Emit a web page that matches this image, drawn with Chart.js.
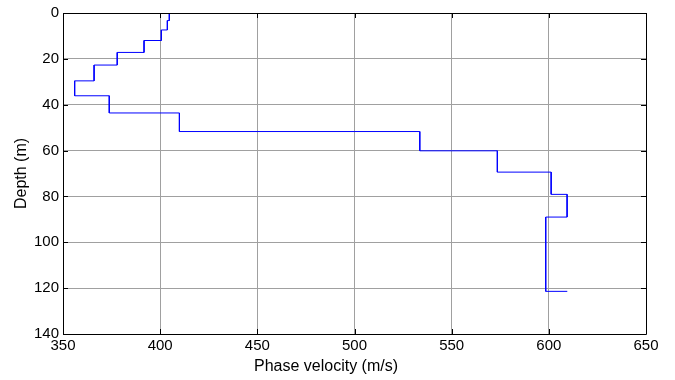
<!DOCTYPE html>
<html>
<head>
<meta charset="utf-8">
<script src="https://cdn.jsdelivr.net/npm/chart.js@4/dist/chart.umd.min.js"></script>
<style>
html,body{margin:0;padding:0;background:#fff;}
canvas{display:block;}
</style>
</head>
<body>
<canvas id="c" width="675" height="380"></canvas>
<script>
// Layer velocities (m/s), last one is the half-space value
const layerVelocity = [404.7, 403.7, 400.6, 391.7, 377.9, 366.0, 356.0, 373.8, 409.9, 533.6, 573.5, 601.2, 609.4, 598.4, 609.5];
// Layer boundary depths (m)
const boundaryDepth = [0, 3.3, 7.4, 12.0, 17.2, 22.7, 29.6, 36.1, 43.6, 51.7, 60.1, 69.4, 79.1, 89.0, 121.4];
const xTicks = [350, 400, 450, 500, 550, 600, 650];
const yTicks = [0, 20, 40, 60, 80, 100, 120, 140];
const xTitle = 'Phase velocity (m/s)';
const yTitle = 'Depth (m)';

const pts = [];
for (let i = 0; i < boundaryDepth.length - 1; i++) {
  pts.push({x: layerVelocity[i], y: boundaryDepth[i]});
  pts.push({x: layerVelocity[i], y: boundaryDepth[i + 1]});
}
pts.push({x: layerVelocity[layerVelocity.length - 1], y: boundaryDepth[boundaryDepth.length - 1]});

const FONT = "'Liberation Sans', Arial, sans-serif";

const boxPlugin = {
  id: 'box',
  afterDraw(chart) {
    const {ctx, chartArea: a, scales} = chart;
    ctx.save();
    ctx.strokeStyle = '#000';
    ctx.lineWidth = 1;
    ctx.beginPath();
    ctx.rect(Math.round(a.left) + 0.5, Math.round(a.top) + 0.5, Math.round(a.right - a.left), Math.round(a.bottom - a.top));
    ctx.stroke();
    const tl = 5;
    ctx.beginPath();
    xTicks.forEach(v => {
      const x = Math.round(scales.x.getPixelForValue(v)) + 0.5;
      ctx.moveTo(x, a.bottom); ctx.lineTo(x, a.bottom - tl);
      ctx.moveTo(x, a.top); ctx.lineTo(x, a.top + tl);
    });
    yTicks.forEach(v => {
      const y = Math.round(scales.y.getPixelForValue(v)) + 0.5;
      ctx.moveTo(a.left, y); ctx.lineTo(a.left + tl, y);
      ctx.moveTo(a.right, y); ctx.lineTo(a.right - tl, y);
    });
    ctx.stroke();
    // x-axis title (placed as in the reference, slightly left of centre)
    ctx.fillStyle = '#000';
    ctx.font = '16px ' + FONT;
    ctx.textAlign = 'center';
    ctx.textBaseline = 'middle';
    ctx.fillText(xTitle, 326, 367);
    ctx.restore();
  }
};

new Chart(document.getElementById('c'), {
  type: 'scatter',
  data: {
    datasets: [{
      data: pts,
      showLine: true,
      borderColor: '#0000ff',
      borderWidth: 1,
      pointRadius: 0,
      fill: false,
      tension: 0
    }]
  },
  options: {
    responsive: false,
    animation: false,
    events: [],
    layout: {padding: {left: 12, top: 12, right: 29, bottom: 4}},
    plugins: {legend: {display: false}, tooltip: {enabled: false}},
    scales: {
      x: {
        type: 'linear', min: 350, max: 650,
        afterBuildTicks: s => { s.ticks = xTicks.map(v => ({value: v})); },
        afterFit: s => { s.height = 42; },
        grid: {color: '#a0a0a0', lineWidth: 1, drawTicks: false},
        border: {display: false},
        ticks: {color: '#000', padding: 3, font: {family: FONT, size: 15}, maxRotation: 0},
        title: {display: false}
      },
      y: {
        type: 'linear', min: 0, max: 140, reverse: true,
        afterBuildTicks: s => { s.ticks = yTicks.map(v => ({value: v})); },
        afterFit: s => { s.width = 51; },
        grid: {color: '#a0a0a0', lineWidth: 1, drawTicks: false},
        border: {display: false},
        ticks: {color: '#000', padding: 4, font: {family: FONT, size: 15}},
        title: {display: true, text: yTitle, color: '#000', font: {family: FONT, size: 16}, padding: {top: 0, bottom: 0}}
      }
    }
  },
  plugins: [boxPlugin]
});
</script>
</body>
</html>
